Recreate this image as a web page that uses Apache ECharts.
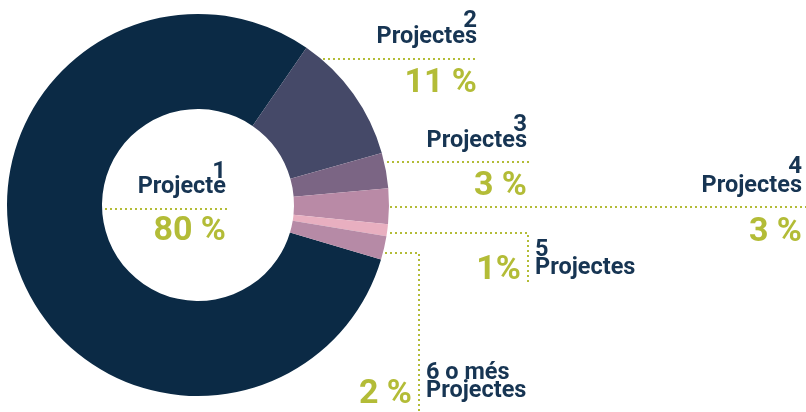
<!DOCTYPE html>
<html>
<head>
<meta charset="utf-8">
<script src="https://cdn.jsdelivr.net/npm/echarts@6/dist/echarts.min.js"></script>
<style>
  html, body {margin: 0; padding: 0; background: #fff;}
  #chart {width: 806px; height: 412px;}
</style>
</head>
<body>
<div id="chart"></div>
<script>
// dades
const categories = ['1', '2', '3', '4', '5', '6 o més'];
const names = ['Projecte', 'Projectes', 'Projectes', 'Projectes', 'Projectes', 'Projectes'];
const shares = [80, 11, 3, 3, 1, 2];
const pctLabels = ['80 %', '11 %', '3 %', '3 %', '1%', '2 %'];
const colors = ['#0b2a45', '#454968', '#7b6584', '#b98aa6', '#e8afc0', '#b68aa6'];

const NAVY = '#173553';
const GREEN = '#b3bc37';
const FONT = 'Roboto, "Noto Sans", sans-serif';

// posicions de les etiquetes (només layout)
// side: 'above' -> número + nom a sobre la línia, % a sota
// side: 'corner' -> línia que baixa, % a l'esquerra, nom a la dreta
const anno = [
  {side: 'above', right: 226, supY: 172, nameY: 187, pctY: 231, line: [[105, 209], [228, 209]]},
  {side: 'above', right: 477, supY: 21, nameY: 37, pctY: 83, line: [[323, 59], [478, 59]]},
  {side: 'above', right: 527, supY: 125, nameY: 141, pctY: 186, line: [[387, 162], [530, 162]]},
  {side: 'above', right: 802, supY: 167, nameY: 186, pctY: 232, line: [[390, 207], [806, 207]]},
  {side: 'corner', x: 528, topY: 250, nameY: 268, pctY: 270, line: [[390, 233], [528, 233], [528, 284]]},
  {side: 'corner', x: 419, topY: 373, nameY: 391, pctY: 394, line: [[385, 253], [419, 253], [419, 412]]}
];

function text(str, x, y, size, color, align) {
  return {
    type: 'text',
    silent: true,
    style: {
      text: str, x: x, y: y,
      font: 'bold ' + size + 'px ' + FONT,
      fill: color,
      textAlign: align,
      textVerticalAlign: 'middle'
    }
  };
}

const graphics = [];
anno.forEach((a, i) => {
  graphics.push({
    type: 'polyline',
    silent: true,
    shape: {points: a.line},
    style: {stroke: GREEN, lineWidth: 2, lineDash: [2, 3], fill: null}
  });
  if (a.side === 'above') {
    graphics.push(text(categories[i], a.right, a.supY, 24, NAVY, 'right'));
    graphics.push(text(names[i], a.right, a.nameY, 23.5, NAVY, 'right'));
    graphics.push(text(pctLabels[i], a.right, a.pctY, 34, GREEN, 'right'));
  } else {
    graphics.push(text(categories[i], a.x + 7, a.topY, 23.5, NAVY, 'left'));
    graphics.push(text(names[i], a.x + 7, a.nameY, 23.5, NAVY, 'left'));
    graphics.push(text(pctLabels[i], a.x - 7, a.pctY, 34, GREEN, 'right'));
  }
});

const chart = echarts.init(document.getElementById('chart'), null, {renderer: 'canvas'});
chart.setOption({
  animation: false,
  backgroundColor: '#ffffff',
  series: [{
    type: 'pie',
    center: [198, 205],
    radius: [96, 191],
    startAngle: -16.6,
    clockwise: true,
    silent: true,
    avoidLabelOverlap: false,
    label: {show: false},
    labelLine: {show: false},
    itemStyle: {borderWidth: 0},
    data: shares.map((v, i) => ({
      name: categories[i],
      value: v,
      itemStyle: {color: colors[i]}
    }))
  }],
  graphic: graphics
});
</script>
</body>
</html>
